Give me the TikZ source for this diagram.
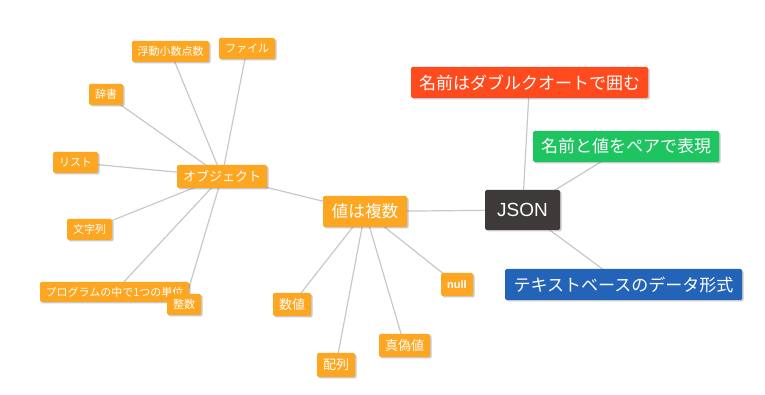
\documentclass[tikz,border=0pt]{standalone}
\usepackage{fontspec}
\setmainfont{Noto Sans CJK JP}
\newfontfamily\latinfont{Liberation Sans}
\usetikzlibrary{shadows,backgrounds}
\newdimen\px \px=0.75pt
\definecolor{corange}{RGB}{253,166,33}
\definecolor{cred}{RGB}{255,74,30}
\definecolor{cgreen}{RGB}{29,196,95}
\definecolor{cblue}{RGB}{35,100,185}
\definecolor{cdark}{RGB}{62,58,57}
\definecolor{cedge}{RGB}{200,200,200}
\begin{document}
\begin{tikzpicture}[x=0.75pt,y=-0.75pt,
  box/.style={rectangle, rounded corners=1.5\px, inner sep=0pt, text=white,
    drop shadow={shadow xshift=1.5\px, shadow yshift=-1.5\px, opacity=0.3, fill=black!70}},
  big/.style={box, font=\fontsize{12.75}{14}\selectfont, minimum height=31\px},
  mid/.style={box, fill=corange, font=\fontsize{9.75}{11}\selectfont, minimum height=23\px},
  small/.style={box, fill=corange, font=\fontsize{8.25}{10}\selectfont, minimum height=21\px},
  edge/.style={draw=cedge, line width=1.2\px}]
\useasboundingbox (0,0) rectangle (765,395);
% JSON cluster
\node[box, fill=cdark, font=\latinfont\fontsize{14.25}{16}\selectfont, minimum width=75\px, minimum height=40\px] (json) at (522.5,210) {JSON};
\node[big, fill=cred, minimum width=237\px] (dq) at (529.5,82.5) {名前はダブルクオートで囲む};
\node[big, fill=cgreen, minimum width=186\px] (pair) at (626,146.5) {名前と値をペアで表現};
\node[big, fill=cblue, minimum width=237\px] (txt) at (623.5,284.5) {テキストベースのデータ形式};
% values
\node[box, fill=corange, font=\fontsize{12.5}{14}\selectfont, minimum width=84\px, minimum height=31\px] (vals) at (365,211.5) {値は複数};
\node[mid, minimum width=38\px] (num) at (292,304.5) {数値};
\node[mid, minimum width=38\px, minimum height=24\px] (arr) at (336,365) {配列};
\node[mid, minimum width=51\px] (bool) at (404.5,345.5) {真偽値};
\node[small, minimum width=32\px, minimum height=23\px, font=\latinfont\fontsize{8.25}{10}\selectfont\bfseries] (null) at (457,284.5) {null};
% object
\node[mid, minimum width=90\px] (obj) at (222,176.5) {オブジェクト};
\node[small, minimum width=77\px] (float) at (170.5,51.5) {浮動小数点数};
\node[small, minimum width=56\px] (file) at (247,48.5) {ファイル};
\node[small, minimum width=34\px] (dict) at (106,94.5) {辞書};
\node[small, minimum width=45\px] (list) at (75.5,162.5) {リスト};
\node[small, minimum width=45\px] (str) at (89.5,229.5) {文字列};
\node[small, minimum width=149\px, minimum height=20\px] (prog) at (114.5,292) {プログラムの中で1つの単位};
\node[small, minimum width=34\px] (int) at (184,304.5) {整数};
\begin{pgfonlayer}{background}
\foreach \t in {dq,pair,txt,vals} \draw[edge] (json.center) -- (\t.center);
\foreach \t in {obj,num,arr,bool,null} \draw[edge] (vals.center) -- (\t.center);
\foreach \t in {float,file,dict,list,str,prog,int} \draw[edge] (obj.center) -- (\t.center);
\end{pgfonlayer}
\end{tikzpicture}
\end{document}
